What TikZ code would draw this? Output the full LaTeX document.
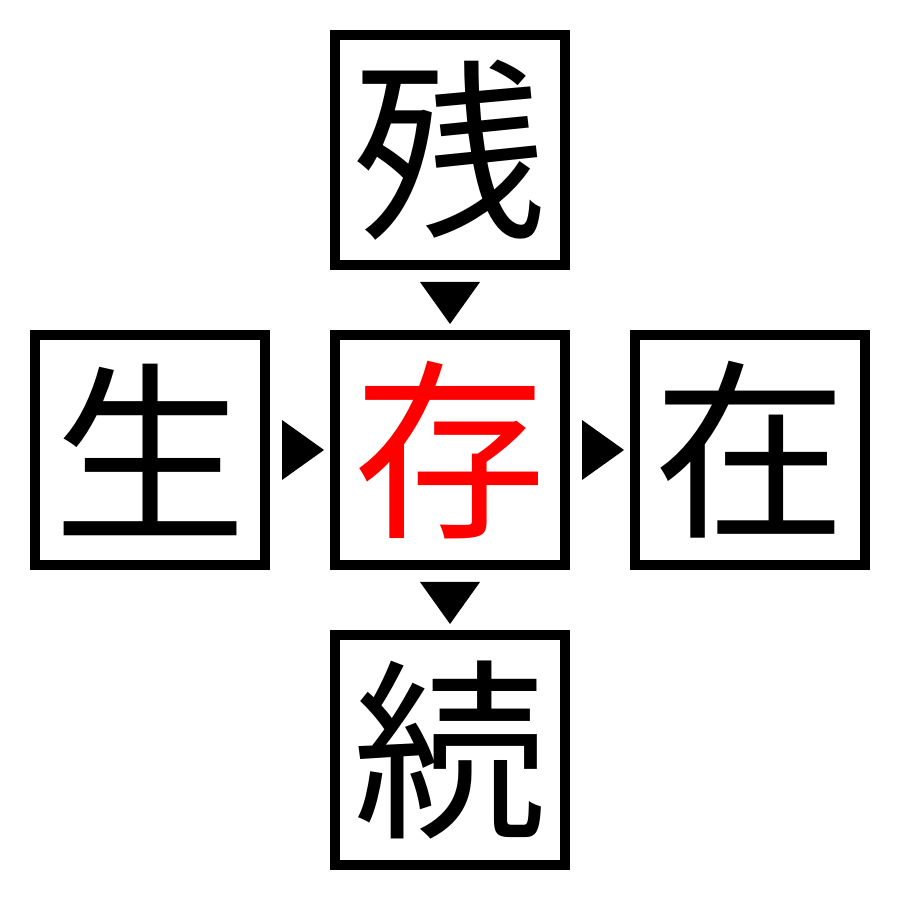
\documentclass[tikz,border=0pt]{standalone}
\usepackage{fontspec}
\newfontfamily\cjk{Noto Sans CJK JP}

\tikzset{
    kanji/.style={draw, line width=0.1cm, minimum size=2.3cm, inner sep=0pt,
        font=\cjk\fontsize{55}{55}\selectfont},
}

\begin{document}
\begin{tikzpicture}
            \useasboundingbox (0, 0) rectangle (9, 9);

            \node[kanji] at (4.5, 7.5)      (zan)  {残};
            \node[kanji] at (1.5, 4.5)      (sei)  {生};
            \node[kanji, text=red] at (4.5, 4.5)      (son)  {存};
            \node[kanji] at (7.5, 4.5)      (zai)  {在};
            \node[kanji] at (4.5, 1.5)      (zoku) {続};

            % arrow heads between the boxes
            \fill (4.2, 6.18) -- (4.8, 6.18) -- (4.5, 5.76) -- cycle;
            \fill (4.2, 3.18) -- (4.8, 3.18) -- (4.5, 2.76) -- cycle;
            \fill (2.82, 4.8) -- (2.82, 4.2) -- (3.24, 4.5) -- cycle;
            \fill (5.82, 4.8) -- (5.82, 4.2) -- (6.24, 4.5) -- cycle;
        \end{tikzpicture}
\end{document}
